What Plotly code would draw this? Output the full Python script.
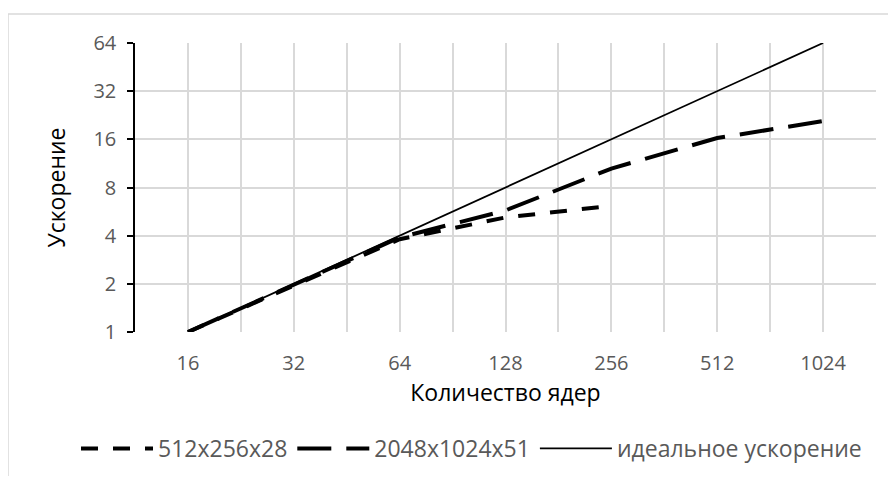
import math
import plotly.graph_objects as go

cores = [16, 32, 64, 128, 256, 512, 1024]
ideal = [1, 2, 4, 8, 16, 32, 64]
s_small_x = [16, 32, 64, 128, 256]
s_small = [1, 1.95, 3.8, 5.2, 6.15]
s_large = [1, 1.97, 3.9, 5.75, 10.5, 16.3, 20.8]

x_ticks = [16, 32, 64, 128, 256, 512, 1024]
y_ticks = [1, 2, 4, 8, 16, 32, 64]
names = ["512x256x28", "2048x1024x51", "идеальное ускорение"]

FONT = "Open Sans"
GRAY = "#595959"
GRID = "#d9d9d9"

fig = go.Figure()
fig.add_trace(go.Scatter(x=s_small_x, y=s_small, mode="lines", name=names[0],
                         line=dict(color="black", width=4, dash="17px,15px")))
fig.add_trace(go.Scatter(x=cores, y=s_large, mode="lines", name=names[1],
                         line=dict(color="black", width=4, dash="34px,15px")))
fig.add_trace(go.Scatter(x=cores, y=ideal, mode="lines", name=names[2],
                         line=dict(color="black", width=1.8)))

minor_x = [v * math.sqrt(2) for v in [8] + x_ticks]

# page has an 8px body margin, so the figure is sized/offset accordingly
W, H = 880, 468
L, T, R, B = 127, 35, 12, 144
PW, PH = W - L - R, H - T - B

fig.update_layout(
    width=W, height=H,
    margin=dict(l=L, r=R, t=T, b=B, autoexpand=False),
    paper_bgcolor="white", plot_bgcolor="white",
    font=dict(family=FONT, size=20, color=GRAY),
    showlegend=True,
    legend=dict(orientation="h", x=(68 - L) / PW, xanchor="left",
                y=-(419 - (T + PH)) / PH, yanchor="top",
                font=dict(family=FONT, size=23, color=GRAY), itemwidth=72,
                bgcolor="rgba(0,0,0,0)"),
    xaxis=dict(type="log",
               range=[math.log10(2 ** 3.5), math.log10(2 ** 10.5)],
               tickmode="array", tickvals=x_ticks, ticktext=[str(v) for v in x_ticks],
               tickfont=dict(family=FONT, size=20, color=GRAY),
               showgrid=True, gridcolor=GRID, gridwidth=1.5,
               minor=dict(tickmode="array", tickvals=minor_x, showgrid=True,
                          gridcolor=GRID, gridwidth=1.5, ticklen=0),
               showline=False, zeroline=False, ticks="", ticklabelstandoff=17,
               title=dict(text="Количество ядер", font=dict(family=FONT, size=23, color="black"),
                          standoff=6)),
    yaxis=dict(type="log",
               range=[0, math.log10(64)],
               tickmode="array", tickvals=y_ticks, ticktext=[str(v) for v in y_ticks],
               tickfont=dict(family=FONT, size=20, color=GRAY),
               showgrid=True, gridcolor=GRID, gridwidth=1.5,
               showline=True, linecolor="black", linewidth=1.5,
               ticks="outside", ticklen=6, tickcolor="black", tickwidth=1.5,
               zeroline=False, ticklabelstandoff=7,
               title=dict(text="Ускорение", font=dict(family=FONT, size=23, color="black"),
                          standoff=21)),
    shapes=[dict(type="rect", xref="paper", yref="paper",
                 x0=(0 - L) / PW, x1=(W + 10 - L) / PW,
                 y0=-(H + 10 - (T + PH)) / PH, y1=(T + PH - 6) / PH,
                 line=dict(color="#d9d9d9", width=1.5), fillcolor="rgba(0,0,0,0)",
                 layer="below")],
)

fig.write_html("out.html")
